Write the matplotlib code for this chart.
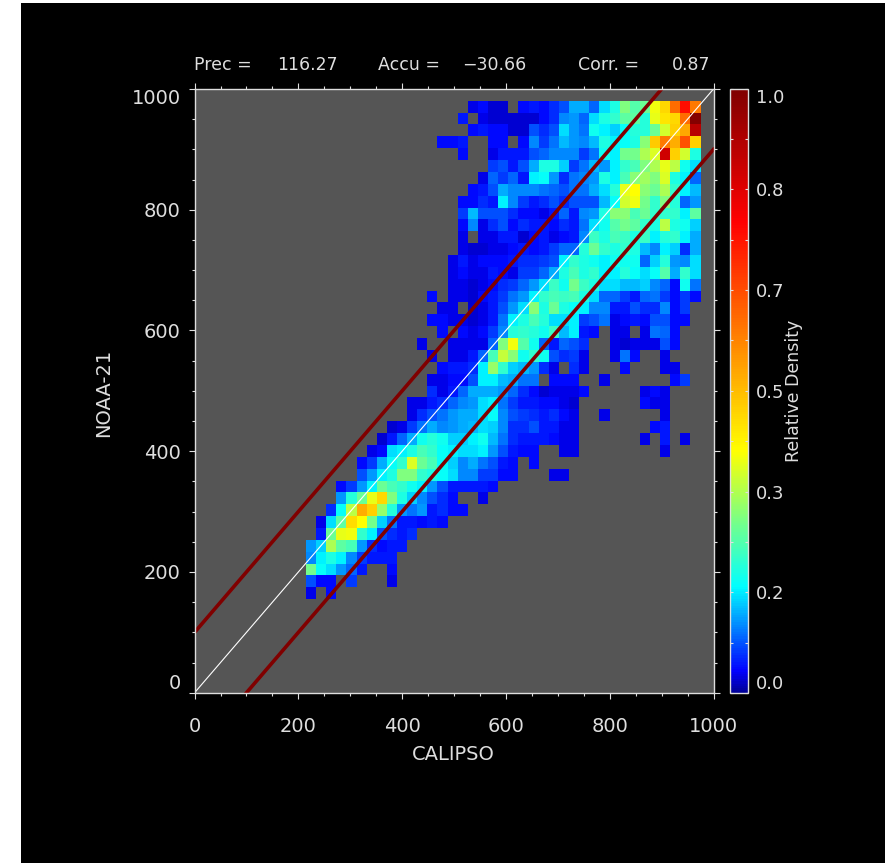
#!/usr/bin/env python3
"""Relative density of NOAA-21 vs CALIPSO cloud heights, IDL style panel."""
import numpy as np
import matplotlib
matplotlib.use("Agg")
import matplotlib.pyplot as plt
from matplotlib.colors import LinearSegmentedColormap
from matplotlib.cm import ScalarMappable
from matplotlib.patches import Rectangle
from matplotlib.ticker import MultipleLocator

W, H = 889, 863

# ---- data: density x 100, one row per y bin from the top, 0 = empty --------
ROW_FIRST_COL = [16, 15, 16, 13, 15, 18, 17, 16, 15, 15, 15, 15, 15, 14,
                 14, 14, 12, 13, 12, 13, 11, 12, 13, 12, 12, 10, 10, 8,
                 7, 6, 5, 5, 3, 3, 2, 1, 1, 0, 0, 0, 0, 0]
ROW_VALUES = [
    [3, 4, 2, 2, 0, 4, 5, 4, 6, 8, 13, 13, 9, 16, 20, 29, 25, 27, 39, 46, 62, 76, 60],
    [5, 0, 3, 2, 2, 2, 2, 2, 4, 6, 11, 12, 9, 16, 20, 22, 26, 26, 21, 38, 44, 46, 62, 99],
    [4, 5, 4, 4, 2, 2, 8, 6, 8, 16, 12, 10, 19, 17, 15, 18, 21, 21, 27, 36, 47, 53, 90],
    [4, 4, 5, 0, 0, 4, 4, 0, 4, 11, 7, 10, 14, 12, 11, 14, 20, 17, 18, 20, 30, 48, 60, 52, 66, 47],
    [4, 0, 0, 3, 5, 5, 5, 8, 9, 11, 11, 11, 7, 10, 19, 17, 28, 28, 33, 37, 86, 47, 36, 20],
    [7, 8, 5, 8, 13, 20, 20, 15, 7, 10, 14, 12, 17, 22, 24, 29, 33, 38, 34, 19, 16],
    [3, 9, 7, 9, 5, 17, 18, 12, 6, 10, 11, 12, 20, 17, 24, 30, 32, 29, 37, 20, 17, 9],
    [4, 5, 8, 13, 11, 11, 11, 10, 9, 8, 10, 10, 13, 16, 21, 38, 40, 30, 27, 33, 22, 17, 14],
    [4, 4, 6, 5, 17, 11, 7, 5, 6, 8, 6, 8, 8, 8, 14, 18, 36, 39, 28, 22, 29, 21, 9, 12],
    [7, 14, 8, 8, 8, 6, 4, 4, 3, 5, 9, 5, 11, 12, 20, 30, 30, 24, 27, 22, 22, 22, 17, 26],
    [4, 11, 3, 6, 8, 4, 6, 5, 5, 4, 6, 5, 10, 16, 19, 25, 28, 26, 22, 20, 34, 20, 19, 15],
    [3, 0, 3, 3, 5, 5, 2, 4, 5, 3, 4, 5, 11, 23, 20, 24, 23, 20, 23, 17, 21, 22, 17, 13],
    [3, 2, 2, 3, 3, 4, 5, 4, 5, 7, 9, 9, 21, 27, 22, 20, 22, 20, 14, 11, 17, 15, 6, 13],
    [3, 5, 3, 4, 4, 4, 5, 6, 6, 7, 8, 17, 22, 20, 19, 17, 19, 19, 19, 9, 15, 21, 12, 11, 16],
    [3, 4, 3, 3, 5, 4, 3, 7, 7, 9, 13, 20, 24, 20, 22, 17, 17, 21, 18, 16, 18, 25, 13, 22, 16],
    [3, 3, 2, 3, 4, 6, 7, 9, 12, 16, 23, 19, 28, 23, 20, 16, 16, 14, 14, 15, 11, 9, 4, 19, 10],
    [4, 0, 3, 3, 2, 4, 5, 7, 10, 12, 17, 22, 24, 23, 24, 20, 16, 9, 9, 7, 5, 9, 10, 7, 4, 7, 4],
    [3, 3, 0, 2, 3, 5, 8, 12, 16, 30, 20, 27, 20, 18, 17, 11, 11, 5, 5, 8, 6, 6, 11, 4, 7],
    [4, 4, 3, 3, 2, 3, 5, 10, 17, 20, 24, 21, 16, 16, 17, 7, 8, 10, 3, 4, 5, 4, 8, 8, 4, 4],
    [4, 0, 4, 3, 4, 7, 11, 21, 22, 21, 19, 23, 14, 17, 5, 4, 0, 3, 3, 0, 3, 10, 9, 4],
    [3, 0, 0, 3, 3, 3, 3, 9, 29, 39, 25, 19, 9, 5, 9, 8, 6, 0, 0, 3, 2, 3, 3, 3, 8, 4],
    [3, 0, 3, 3, 5, 9, 24, 35, 30, 19, 22, 19, 8, 6, 7, 3, 0, 0, 3, 10, 4, 0, 0, 3],
    [4, 5, 5, 6, 17, 31, 22, 15, 14, 12, 6, 3, 0, 6, 3, 0, 0, 0, 4, 0, 0, 0, 3, 3],
    [3, 3, 4, 4, 8, 17, 17, 14, 13, 10, 10, 0, 4, 4, 4, 0, 0, 3, 0, 0, 0, 0, 0, 0, 4, 7],
    [6, 3, 5, 9, 13, 13, 13, 12, 9, 6, 4, 2, 3, 3, 3, 4, 0, 0, 0, 0, 0, 3, 4, 3],
    [3, 3, 5, 6, 9, 11, 12, 16, 17, 10, 7, 5, 5, 4, 4, 3, 2, 0, 0, 0, 0, 0, 0, 4, 3, 3],
    [3, 6, 8, 10, 12, 13, 13, 16, 18, 11, 8, 7, 6, 5, 6, 4, 3, 0, 0, 3, 0, 0, 0, 0, 0, 3],
    [2, 3, 7, 10, 13, 11, 12, 13, 14, 16, 15, 11, 6, 6, 8, 5, 5, 3, 3, 0, 0, 0, 0, 0, 0, 0, 4, 5],
    [2, 5, 9, 13, 19, 21, 19, 15, 15, 17, 19, 14, 10, 6, 5, 5, 5, 4, 3, 3, 0, 0, 0, 0, 0, 0, 3, 0, 5, 0, 3],
    [3, 4, 16, 17, 20, 24, 22, 18, 17, 16, 16, 17, 12, 8, 5, 4, 4, 0, 0, 3, 3, 0, 0, 0, 0, 0, 0, 0, 0, 3],
    [4, 7, 13, 18, 22, 37, 27, 24, 18, 15, 11, 13, 10, 8, 5, 4, 0, 4],
    [8, 12, 17, 20, 29, 29, 22, 20, 18, 16, 11, 11, 7, 7, 4, 4, 0, 0, 0, 3, 3],
    [4, 7, 12, 17, 27, 24, 22, 19, 17, 12, 8, 5, 5, 5, 5, 4],
    [12, 21, 27, 38, 46, 29, 20, 15, 11, 8, 6, 4, 0, 0, 3],
    [6, 18, 34, 52, 47, 31, 21, 12, 10, 12, 5, 6, 4, 4],
    [3, 16, 26, 45, 40, 28, 15, 10, 5, 5, 4, 5, 4],
    [5, 27, 38, 39, 22, 17, 8, 6, 5, 6],
    [12, 15, 33, 26, 24, 12, 6, 4, 5, 5],
    [11, 17, 20, 17, 11, 7, 5, 5, 5],
    [28, 18, 16, 12, 9, 5, 0, 0, 4],
    [8, 4, 4, 0, 7, 0, 0, 0, 3],
    [3, 0, 4],
]
N_COLS = 39
X_EDGE_START, X_EDGE_STEP = 214.6, 19.5   # bin layout in data units
Y_EDGE_TOP, Y_EDGE_STEP = 980.6, 19.66

X_TICKS = [0, 200, 400, 600, 800, 1000]
Y_TICKS = [0, 200, 400, 600, 800, 1000]
CBAR_TICKS = [0, 1 / 6, 2 / 6, 3 / 6, 4 / 6, 5 / 6, 1]
CBAR_LABELS = ["0.0", "0.2", "0.3", "0.5", "0.7", "0.8", "1.0"]
STATS = [("Prec =", 194, "116.27", 277), ("Accu =", 378, "\u221230.66", 462),
         ("Corr. =", 578, "0.87", 672)]
BAND = 100

# colours
FG = "#dedede"
GREY = "#555555"
DARK_RED = "#800000"
CMAP = LinearSegmentedColormap.from_list("density", [
    (0.0, (0, 0, 0.6)), (0.035, (0, 0, 1)), (0.175, (0, 1, 1)),
    (0.29, (0.5, 1, 0.5)), (0.40, (1, 1, 0)), (0.78, (1, 0, 0)), (1.0, (0.5, 0, 0))], N=256)
CMAP.set_bad((0, 0, 0, 0))


def px_axes(fig, left, top, right, bottom):
    return fig.add_axes([left / W, 1 - bottom / H, (right - left) / W, (bottom - top) / H])


def px_text(fig, x, y, s, **kw):
    kw.setdefault("color", FG)
    kw.setdefault("fontsize", 12.5)
    return fig.text(x / W, 1 - y / H, s, **kw)


def density_grid():
    grid = np.zeros((len(ROW_VALUES), N_COLS))
    for r, (first, vals) in enumerate(zip(ROW_FIRST_COL, ROW_VALUES)):
        grid[r, first:first + len(vals)] = vals
    return np.ma.masked_equal(grid, 0) / 100.0


def main():
    fig = plt.figure(figsize=(W / 100, H / 100), dpi=100, facecolor="white")
    # image has a white strip on the left, top and right
    fig.add_artist(Rectangle((21 / W, 0), (885 - 21) / W, 1 - 3 / H, transform=fig.transFigure,
                             facecolor="black", edgecolor="none", zorder=-1))

    ax = px_axes(fig, 194.6, 89, 713.5, 692.7)
    ax.set_facecolor(GREY)
    grid = density_grid()
    x_edges = X_EDGE_START + X_EDGE_STEP * np.arange(N_COLS + 1)
    y_edges = Y_EDGE_TOP - Y_EDGE_STEP * np.arange(len(ROW_VALUES) + 1)
    ax.pcolormesh(x_edges, y_edges, grid, cmap=CMAP, vmin=0, vmax=1, antialiased=False)

    ax.plot([0, 1000], [0, 1000], color="white", lw=0.8)
    ax.plot([0, 1000 - BAND], [BAND, 1000], color=DARK_RED, lw=2.6)
    ax.plot([BAND, 1000], [0, 1000 - BAND], color=DARK_RED, lw=2.6)
    ax.set_xlim(0, 1000)
    ax.set_ylim(0, 1000)

    ax.set_xticks(X_TICKS)
    ax.set_yticks(Y_TICKS)
    ax.xaxis.set_minor_locator(MultipleLocator(50))
    ax.yaxis.set_minor_locator(MultipleLocator(50))
    ax.tick_params(which="major", direction="out", length=4.5, width=0.8, color=FG,
                   labelcolor=FG, labelsize=14, top=True, right=True)
    ax.tick_params(which="minor", direction="out", length=2.3, width=0.8, color=FG,
                   top=True, right=True)
    ax.tick_params(axis="x", which="major", pad=13)
    ax.tick_params(axis="y", which="major", pad=5.5)
    for lab, val in zip(ax.get_yticklabels(), Y_TICKS):
        if val == 0:
            lab.set_va("bottom")
        elif val == 1000:
            lab.set_va("top")
    for s in ax.spines.values():
        s.set_color(FG)
        s.set_linewidth(1.0)

    # colorbar
    cax = px_axes(fig, 730, 88.5, 747.7, 693)
    sm = ScalarMappable(cmap=CMAP, norm=plt.Normalize(0, 1))
    cb = fig.colorbar(sm, cax=cax)
    cb.set_ticks(CBAR_TICKS, labels=CBAR_LABELS)
    cb.outline.set_edgecolor(FG)
    cb.outline.set_linewidth(1.0)
    cax.yaxis.set_minor_locator(MultipleLocator(1 / 12))
    cax.tick_params(which="both", direction="in", length=2, width=0.8, color=FG, left=True,
                    right=True, labelcolor=FG, labelsize=13, pad=6)
    for lab, val in zip(cax.get_yticklabels(), CBAR_TICKS):
        if val == 0:
            lab.set_va("bottom")
        elif val == 1:
            lab.set_va("top")

    # stat strip over the panel
    for name, x_name, val, x_val in STATS:
        px_text(fig, x_name, 65, name, ha="left", va="center")
        px_text(fig, x_val, 65, val, ha="left", va="center")
    px_text(fig, 453, 754, "CALIPSO", ha="center", va="center", fontsize=14)
    px_text(fig, 104, 393, "NOAA-21", ha="center", va="center", rotation=90, fontsize=14)
    px_text(fig, 794, 391, "Relative Density", ha="center", va="center", rotation=90, fontsize=12.5)

    fig.savefig("out.png", dpi=100, facecolor=fig.get_facecolor())
    plt.close(fig)


if __name__ == "__main__":
    main()
